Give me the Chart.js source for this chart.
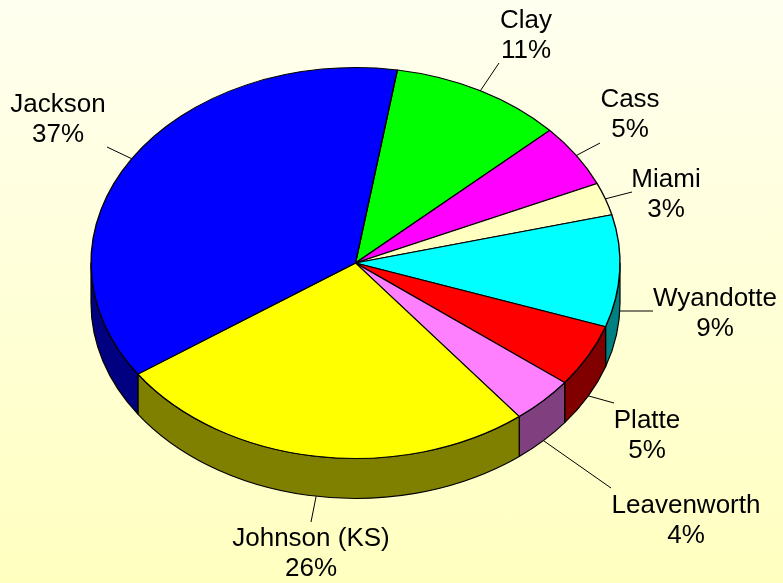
<!DOCTYPE html>
<html>
<head>
<meta charset="utf-8">
<title>Pie</title>
<script src="https://cdn.jsdelivr.net/npm/chart.js@4/dist/chart.umd.min.js"></script>
<style>
  html, body { margin: 0; padding: 0; }
  body { width: 783px; height: 583px; overflow: hidden; background: linear-gradient(#fffff0, #ffffc0); }
  canvas { display: block; }
</style>
</head>
<body>
<canvas id="pie" width="783" height="583"></canvas>
<script>
// Datos
const counties = ['Clay', 'Cass', 'Miami', 'Wyandotte', 'Platte', 'Leavenworth', 'Johnson (KS)', 'Jackson'];
const shares = [10.6, 5.2, 2.7, 9.25, 5.2, 3.9, 26, 37.15];
const shareLabels = ['11%', '5%', '3%', '9%', '5%', '4%', '26%', '37%'];

const topColors = ['#00ff00', '#ff00ff', '#ffffc0', '#00ffff', '#ff0000', '#ff80ff', '#ffff00', '#0000ff'];
const sideColors = ['#008000', '#800080', '#808060', '#008080', '#800000', '#804080', '#808000', '#000080'];

// Where each label goes: centre x, first baseline, end of its leader line
const labelSpots = [
  { x: 526, y: 28, lx: 499, ly: 63 },
  { x: 630, y: 107, lx: 600, ly: 143 },
  { x: 666, y: 187, lx: 632, ly: 192 },
  { x: 715, y: 306, lx: 653, ly: 311 },
  { x: 647, y: 428, lx: 614, ly: 403 },
  { x: 686, y: 513, lx: 611, ly: 488 },
  { x: 311, y: 546, lx: 311, ly: 522 },
  { x: 58, y: 112, lx: 107, ly: 147 }
];

const centerX = 355.5;
const centerY = 263;
const radiusX = 264.5;
const tilt = 0.739;
const depth = 40;

const pie3d = {
  id: 'pie3d',
  beforeDatasetsDraw(chart) {
    const ctx = chart.ctx;
    const arcs = chart.getDatasetMeta(0).data;
    const ry = radiusX * tilt;
    ctx.save();
    ctx.lineWidth = 1.2;
    ctx.strokeStyle = '#000';
    ctx.lineJoin = 'round';
    // wall of the pie, only the part of each slice facing us
    arcs.forEach((arc, i) => {
      for (const shift of [0, -2 * Math.PI]) {
        const a0 = Math.max(arc.startAngle + shift, 0);
        const a1 = Math.min(arc.endAngle + shift, Math.PI);
        if (a1 <= a0) continue;
        ctx.beginPath();
        ctx.ellipse(centerX, centerY, radiusX, ry, 0, a0, a1);
        ctx.ellipse(centerX, centerY + depth, radiusX, ry, 0, a1, a0, true);
        ctx.closePath();
        ctx.fillStyle = sideColors[i];
        ctx.fill();
        ctx.stroke();
      }
    });
    ctx.restore();
    // squash the library's own arcs into the tilted top face
    ctx.save();
    ctx.translate(centerX, centerY);
    ctx.scale(1, tilt);
    ctx.translate(-arcs[0].x, -arcs[0].y);
  },
  afterDatasetsDraw(chart) {
    const ctx = chart.ctx;
    ctx.restore();
    const arcs = chart.getDatasetMeta(0).data;
    const ry = radiusX * tilt;
    ctx.save();
    ctx.font = '26px "Liberation Sans", Arial, sans-serif';
    ctx.textAlign = 'center';
    ctx.textBaseline = 'alphabetic';
    arcs.forEach((arc, i) => {
      const mid = (arc.startAngle + arc.endAngle) / 2;
      const spot = labelSpots[i];
      const sx = centerX + radiusX * Math.cos(mid);
      let sy = centerY + ry * Math.sin(mid);
      if (Math.sin(mid) > 0) sy += depth;
      ctx.beginPath();
      ctx.moveTo(sx, sy);
      ctx.lineTo(spot.lx, spot.ly);
      ctx.strokeStyle = '#000';
      ctx.lineWidth = 1;
      ctx.stroke();
      ctx.fillStyle = '#000';
      ctx.fillText(counties[i], spot.x, spot.y);
      ctx.fillText(shareLabels[i], spot.x, spot.y + 30);
    });
    ctx.restore();
  }
};

const pieChart = new Chart(document.getElementById('pie').getContext('2d'), {
  type: 'pie',
  data: {
    labels: counties,
    datasets: [{
      data: shares,
      backgroundColor: topColors,
      borderColor: '#000',
      borderWidth: 1.4,
      borderJoinStyle: 'round'
    }]
  },
  options: {
    responsive: false,
    animation: false,
    rotation: 9.1,
    radius: radiusX,
    plugins: {
      legend: { display: false },
      tooltip: { enabled: false }
    }
  },
  plugins: [pie3d]
});
</script>
</body>
</html>
